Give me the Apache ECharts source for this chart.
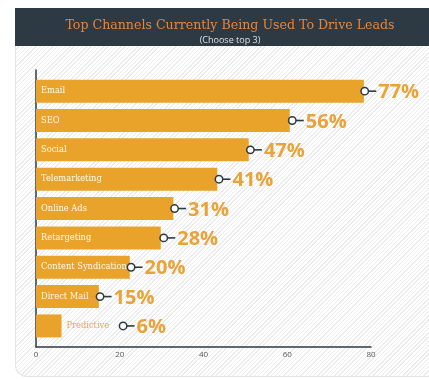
<!DOCTYPE html>
<html>
<head>
<meta charset="utf-8">
<script src="https://cdn.jsdelivr.net/npm/echarts@6/dist/echarts.min.js"></script>
<style>
  html, body { margin: 0; padding: 0; background: #ffffff; }
  #wrap { position: relative; width: 429px; height: 379px; overflow: hidden; }
  #panel {
    position: absolute; left: 15px; top: 46px; width: 420px; height: 331px;
    box-sizing: border-box; border-left: 1px solid #e4e4e4; border-bottom: 1px solid #e4e4e4;
    border-bottom-left-radius: 12px;
    background: repeating-linear-gradient(135deg, #ffffff 0px, #ffffff 2px, #ececec 2px, #ececec 3px);
  }
  #header { position: absolute; left: 15px; top: 8px; width: 420px; height: 38px; background: #2e3a43; }
  #chart { position: absolute; left: 0; top: 0; width: 429px; height: 379px; }
</style>
</head>
<body>
<div id="wrap">
  <div id="panel"></div>
  <div id="header"></div>
  <div id="chart"></div>
</div>
<script>
const titleText = 'Top Channels Currently Being Used To Drive Leads';
const subtitleText = '(Choose top 3)';
const categories = ['Email', 'SEO', 'Social', 'Telemarketing', 'Online Ads', 'Retargeting', 'Content Syndication', 'Direct Mail', 'Predictive'];
const barLengths = [78.3, 60.6, 50.8, 43.3, 32.8, 29.8, 22.4, 15.0, 6.1];
const markerPositions = [78.5, 61.2, 51.2, 43.7, 33.1, 30.5, 22.7, 15.3, 20.8];
const percentValues = [77, 56, 47, 41, 31, 28, 20, 15, 6];
const xTicks = [0, 20, 40, 60, 80];

const BAR = '#E9A32B';
const DARK = '#2d3a42';

const chart = echarts.init(document.getElementById('chart'), null, { renderer: 'canvas' });

const barData = barLengths.map((v, i) => {
  const outside = v < 10;
  return {
    value: v,
    label: outside
      ? { position: 'right', distance: 5, color: '#E9A849' }
      : { position: 'insideLeft', distance: 5, color: '#fff8ec' }
  };
});

const markerData = markerPositions.map((x, i) => [x, i, percentValues[i]]);

chart.setOption({
  animation: false,
  title: [
    {
      text: titleText, left: 225, top: 14, textAlign: 'center',
      textStyle: { color: '#E8843A', fontFamily: 'DejaVu Serif', fontSize: 12.6, fontWeight: 'normal' }
    },
    {
      text: subtitleText, left: 225, top: 31, textAlign: 'center',
      textStyle: { color: '#dde0e2', fontFamily: 'Open Sans', fontSize: 9, fontWeight: 'normal' }
    }
  ],
  grid: [
    { left: 36, right: 58, top: 76.5, height: 264.1 },
    { left: 36, right: 58, top: 70, height: 277 }
  ],
  xAxis: [
    {
      gridIndex: 0, type: 'value', min: xTicks[0], max: xTicks[xTicks.length - 1], interval: 20,
      offset: 6,
      axisLine: { show: true, lineStyle: { color: DARK, width: 1.5 } },
      axisTick: { show: false },
      splitLine: { show: false },
      axisLabel: { color: '#555', fontSize: 8, fontFamily: 'Open Sans', margin: 4 }
    },
    { gridIndex: 1, type: 'value', show: false, min: 0, max: 80 }
  ],
  yAxis: [
    {
      gridIndex: 0, type: 'category', data: categories, inverse: true,
      axisLine: { show: false }, axisTick: { show: false }, axisLabel: { show: false }, splitLine: { show: false }
    },
    {
      gridIndex: 1, type: 'value', min: 0, max: 1,
      axisLine: { show: true, lineStyle: { color: DARK, width: 1.5 } },
      axisTick: { show: false }, axisLabel: { show: false }, splitLine: { show: false }
    }
  ],
  series: [
    {
      type: 'bar', xAxisIndex: 0, yAxisIndex: 0,
      data: barData, barWidth: 23,
      itemStyle: { color: BAR },
      label: {
        show: true,
        formatter: p => categories[p.dataIndex],
        fontFamily: 'DejaVu Serif', fontSize: 8.3
      }
    },
    {
      type: 'custom', xAxisIndex: 0, yAxisIndex: 0,
      encode: { x: 0, y: 1 },
      data: markerData,
      z: 5,
      renderItem: function (params, api) {
        const p = api.coord([api.value(0), api.value(1)]);
        return {
          type: 'group',
          children: [
            { type: 'line', shape: { x1: p[0] + 3.5, y1: p[1], x2: p[0] + 11.5, y2: p[1] },
              style: { stroke: DARK, lineWidth: 1.6 } },
            { type: 'circle', shape: { cx: p[0], cy: p[1], r: 3.7 },
              style: { fill: '#ffffff', stroke: DARK, lineWidth: 1.5 } },
            { type: 'text', x: p[0] + 13.5, y: p[1] + 1.5,
              style: { text: api.value(2) + '%', fill: '#E9A33B', font: 'bold 20px "Open Sans"',
                       verticalAlign: 'middle', align: 'left' } }
          ]
        };
      }
    }
  ]
});
</script>
</body>
</html>
